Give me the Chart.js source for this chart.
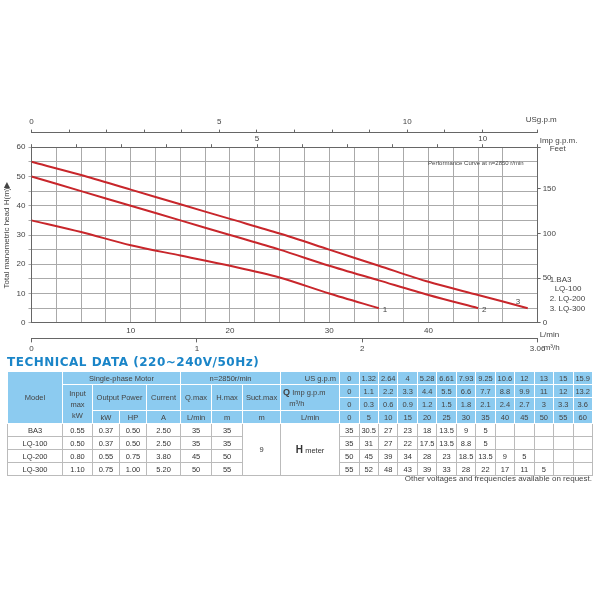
<!DOCTYPE html>
<html><head><meta charset="utf-8">
<script src="https://cdn.jsdelivr.net/npm/chart.js@4"></script>
<style>
body{margin:0;width:600px;height:600px;background:#fff;font-family:"Liberation Sans",Arial,sans-serif;position:relative;overflow:hidden}
#wrap{position:absolute;left:0;top:110px;width:600px;height:246px}
h2{position:absolute;left:7px;top:355px;margin:0;font:bold 12px "DejaVu Sans",sans-serif;color:#1a85c8;letter-spacing:0.5px}
table{position:absolute;left:7px;top:371px;width:586px;border-collapse:collapse;table-layout:fixed;font-size:7.5px;color:#333;text-align:center}
td{border:1px solid #bbb;padding:0;height:12px;line-height:11px;overflow:hidden;white-space:nowrap}
td.h{background:#8ccbf0;border:1px solid #fff;color:#444}
td.w{white-space:normal}
#note{position:absolute;right:8px;top:474px;font-size:8px;color:#444}
</style></head><body>
<div id="wrap"><canvas id="c"></canvas></div>
<h2>TECHNICAL DATA (220~240V/50Hz)</h2>
<table id="t"></table>
<div id="note">Other voltages and frequencies available on request.</div>
<script>
// curve readings (L/min -> m)
const flowLmin = [0, 5, 10, 15, 20, 25, 30, 35, 40, 45, 50];
const head1 = [35, 31, 26.5, 23, 19.5, 15.5, 10, 5];
const head2 = [50, 45, 40, 35, 30, 25, 19.5, 14.5, 9.5, 5];
const head3 = [55, 50.5, 45.5, 40.5, 35.5, 30.5, 25, 19.5, 14, 9.5, 5];
const curveNames = ['1', '2', '3'];
const legendLines = ['1.BA3', 'LQ-100', '2. LQ-200', '3. LQ-300'];

// table data
const usGpm = ['0','1.32','2.64','4','5.28','6.61','7.93','9.25','10.6','12','13','15','15.9'];
const impGpm = ['0','1.1','2.2','3.3','4.4','5.5','6.6','7.7','8.8','9.9','11','12','13.2'];
const m3h = ['0','0.3','0.6','0.9','1.2','1.5','1.8','2.1','2.4','2.7','3','3.3','3.6'];
const lmin = ['0','5','10','15','20','25','30','35','40','45','50','55','60'];
const models = ['BA3','LQ-100','LQ-200','LQ-300'];
const inputKw = ['0.55','0.50','0.80','1.10'];
const outKw = ['0.37','0.37','0.55','0.75'];
const outHp = ['0.50','0.50','0.75','1.00'];
const current = ['2.50','2.50','3.80','5.20'];
const qMax = ['35','35','45','50'];
const hMax = ['35','35','50','55'];
const hRows = [
  ['35','30.5','27','23','18','13.5','9','5'],
  ['35','31','27','22','17.5','13.5','8.8','5'],
  ['50','45','39','34','28','23','18.5','13.5','9','5'],
  ['55','52','48','43','39','33','28','22','17','11','5']
];

const colW = [55, 30, 27, 27, 34, 31, 31, 38, 59];
let t = '<colgroup>' + colW.map(w => '<col style="width:' + w + 'px">').join('') + '<col span="13"></colgroup>';
t += '<tr><td class="h" rowspan="4">Model</td><td class="h" colspan="4">Single-phase Motor</td><td class="h" colspan="3">n=2850r/min</td><td class="h" style="text-align:right;padding-right:3px">US g.p.m</td>' + usGpm.map(v => '<td class="h">' + v + '</td>').join('') + '</tr>';
t += '<tr><td class="h w" rowspan="3">Input<br>max<br>kW</td><td class="h" colspan="2" rowspan="2">Output Power</td><td class="h" rowspan="2">Current</td><td class="h" rowspan="2">Q.max</td><td class="h" rowspan="2">H.max</td><td class="h" rowspan="2">Suct.max</td><td class="h w" rowspan="2" style="text-align:left;padding-left:2px"><b style="font-size:9px">Q</b> Imp g.p.m<br>&nbsp;&nbsp;&nbsp;m³/h</td>' + impGpm.map(v => '<td class="h">' + v + '</td>').join('') + '</tr>';
t += '<tr>' + m3h.map(v => '<td class="h">' + v + '</td>').join('') + '</tr>';
t += '<tr><td class="h">kW</td><td class="h">HP</td><td class="h">A</td><td class="h">L/min</td><td class="h">m</td><td class="h">m</td><td class="h">L/min</td>' + lmin.map(v => '<td class="h">' + v + '</td>').join('') + '</tr>';
models.forEach((m, i) => {
  t += '<tr><td>' + m + '</td><td>' + inputKw[i] + '</td><td>' + outKw[i] + '</td><td>' + outHp[i] + '</td><td>' + current[i] + '</td><td>' + qMax[i] + '</td><td>' + hMax[i] + '</td>';
  if (i === 0) t += '<td rowspan="4">9</td><td rowspan="4"><b style="font-size:10px">H</b> meter</td>';
  for (let k = 0; k < 13; k++) t += '<td>' + (hRows[i][k] || '') + '</td>';
  t += '</tr>';
});
document.getElementById('t').innerHTML = t;

const xMax = 51;
const pts = h => h.map((v, i) => ({x: flowLmin[i], y: v}));
const tickFont = {size: 8, family: 'Liberation Sans'};

const extras = {
  id: 'extras',
  afterDraw(chart) {
    const c = chart.ctx, s = chart.scales, a = chart.chartArea;
    c.save();
    c.fillStyle = '#444';
    c.font = '8px Liberation Sans';
    c.textAlign = 'left';
    c.fillText('USg.p.m', a.right - 12, s.x3.top + 8);
    c.fillText('Imp g.p.m.', a.right + 2, s.x4.top + 10);
    c.fillText('Feet', a.right + 12, a.top + 4);
    c.fillText('L/min', a.right + 2, s.x.top + 14);
    c.fillText('m³/h', a.right + 6, s.x2.top + 12);
    c.font = '6px Liberation Sans';
    c.textAlign = 'right';
    c.fillText('Performance Curve at n=2850 r/min', a.right - 14, a.top + 18);
    c.font = '8px Liberation Sans';
    c.textAlign = 'left';
    chart.data.datasets.forEach((d, i) => {
      const p = d.data[d.data.length - 1];
      const px = s.x.getPixelForValue(p.x), py = s.y.getPixelForValue(p.y);
      if (i === 2) c.fillText(curveNames[i], px - 12, py - 4);
      else c.fillText(curveNames[i], px + 4, py + 4);
    });
    legendLines.forEach((l, i) => {
      c.fillText(l, a.right + (i === 1 ? 17 : 12), s.y.getPixelForValue(14 - i * 3.3));
    });
    c.restore();
  }
};

new Chart(document.getElementById('c'), {
  type: 'scatter',
  data: {datasets: [head1, head2, head3].map(h => ({
    data: pts(h), showLine: true, borderColor: '#c8262b', borderWidth: 2,
    pointRadius: 0, tension: 0.3, fill: false
  }))},
  options: {
    responsive: true, maintainAspectRatio: false, animation: false,
    layout: {padding: {left: 0, right: 42, top: 4, bottom: 0}},
    plugins: {legend: {display: false}, tooltip: {enabled: false}},
    scales: {
      x: {type: 'linear', position: 'bottom', min: 0, max: xMax, weight: 0,
        grid: {color: '#aaa', tickLength: 0}, border: {color: '#666'},
        ticks: {stepSize: 2.5, color: '#444', font: tickFont, padding: 3,
          callback: v => (v > 0 && v % 10 === 0) ? v : ''}},
      x2: {type: 'linear', position: 'bottom', min: 0, max: xMax * 0.06, weight: 1,
        grid: {drawOnChartArea: false, tickLength: 4, color: '#666'}, border: {color: '#666'},
        ticks: {stepSize: 1, color: '#444', font: tickFont, padding: 2}},
      x3: {type: 'linear', position: 'top', min: 0, max: xMax / 3.785, weight: 2,
        grid: {drawOnChartArea: false, tickLength: 3, color: '#666'}, border: {color: '#666'},
        ticks: {stepSize: 1, color: '#444', font: tickFont, padding: 3,
          callback: v => v % 5 === 0 ? v : ''}},
      x4: {type: 'linear', position: 'top', min: 0, max: xMax / 4.546, weight: 1,
        grid: {drawOnChartArea: false, tickLength: 3, color: '#666'}, border: {color: '#666'},
        ticks: {stepSize: 1, color: '#444', font: tickFont, padding: 1,
          callback: v => (v > 0 && v % 5 === 0) ? v : ''}},
      y: {min: 0, max: 60, grid: {color: '#aaa', tickLength: 3},
        border: {color: '#666'},
        ticks: {stepSize: 5, color: '#444', font: tickFont, padding: 3,
          callback: v => v % 10 === 0 ? v : ''},
        title: {display: true, text: 'Total manometric head H(m)▶', color: '#444', font: {size: 8, family: 'Liberation Sans'}, padding: 2}},
      y2: {position: 'right', min: 0, max: 60 * 3.281,
        grid: {drawOnChartArea: false, tickLength: 3, color: '#666'}, border: {color: '#666'},
        ticks: {stepSize: 50, color: '#444', font: tickFont, padding: 2,
          callback: v => v % 50 === 0 ? v : ''}}
    }
  },
  plugins: [extras]
});
</script>
</body></html>
